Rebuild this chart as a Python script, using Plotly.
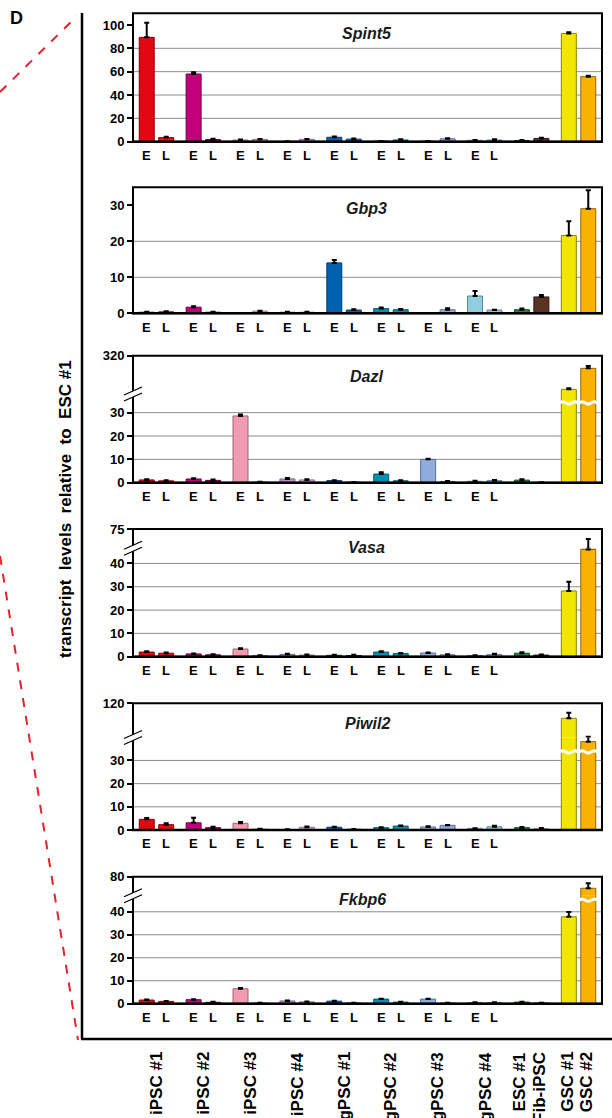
import plotly.graph_objects as go

W, H = 612, 1118
FONT = "Arial, Liberation Sans, sans-serif"

# ---------------- data ----------------
groups = ["iPSC #1", "iPSC #2", "iPSC #3", "iPSC #4",
          "gPSC #1", "gPSC #2", "gPSC #3", "gPSC #4"]
controls = ["ESC #1", "Fib-iPSC", "GSC #1", "GSC #2"]
stages = ["E", "L"]
genes = ["Spint5", "Gbp3", "Dazl", "Vasa", "Piwil2", "Fkbp6"]

# bar order: iPSC#1 E, iPSC#1 L, ... gPSC#4 E, gPSC#4 L, ESC #1, Fib-iPSC, GSC #1, GSC #2
spint5 = [89.4, 3.5, 58.0, 1.8, 1.4, 2.0, 0.2, 2.0, 3.8, 2.2,
          0.5, 1.5, 0.5, 2.5, 1.2, 1.5, 1.0, 2.8, 92.8, 55.7]
spint5_err = [12.6, 0.8, 1.5, 0.8, 0.4, 0.4, 0.1, 0.4, 0.6, 0.5,
              0.2, 0.6, 0.2, 0.5, 0.3, 0.6, 0.4, 0.6, 0.9, 0.8]

gbp3 = [0.3, 0.4, 1.7, 0.3, 0.05, 0.6, 0.3, 0.3, 14.0, 0.9,
        1.3, 1.0, 0.05, 1.0, 4.8, 0.9, 1.0, 4.55, 21.6, 29.05]
gbp3_err = [0.1, 0.15, 0.25, 0.1, 0.0, 0.1, 0.15, 0.1, 0.8, 0.2,
            0.3, 0.2, 0.0, 0.4, 1.4, 0.1, 0.3, 0.55, 4.0, 5.1]

dazl = [1.2, 0.8, 1.6, 1.0, 28.6, 0.3, 1.6, 1.2, 0.9, 0.2,
        3.7, 0.8, 10.0, 0.5, 0.6, 0.9, 1.1, 0.1, 72.6, 227.0]
dazl_err = [0.3, 0.2, 0.3, 0.4, 0.6, 0.1, 0.4, 0.3, 0.2, 0.1,
            0.8, 0.3, 0.3, 0.2, 0.2, 0.3, 0.4, 0.05, 7.4, 17.0]

vasa = [2.0, 1.5, 1.2, 0.8, 3.3, 0.5, 1.0, 0.7, 0.6, 0.5,
        2.0, 1.4, 1.6, 0.8, 0.5, 1.0, 1.5, 0.7, 28.2, 46.0]
vasa_err = [0.3, 0.3, 0.2, 0.2, 0.3, 0.1, 0.3, 0.2, 0.2, 0.3,
            0.3, 0.2, 0.2, 0.2, 0.1, 0.3, 0.4, 0.2, 3.9, 14.2]

piwil2 = [4.6, 2.3, 3.1, 1.0, 2.9, 0.4, 0.2, 1.2, 1.2, 0.3,
          1.0, 1.7, 1.3, 2.0, 0.7, 1.4, 1.0, 0.4, 84.8, 38.1]
piwil2_err = [0.6, 0.6, 2.2, 0.4, 0.5, 0.1, 0.1, 0.3, 0.2, 0.1,
              0.2, 0.2, 0.3, 0.2, 0.1, 0.4, 0.3, 0.5, 13.1, 3.7]

fkbp6 = [1.6, 1.0, 1.75, 0.6, 6.5, 0.3, 1.2, 0.8, 1.1, 0.3,
         2.0, 0.7, 2.0, 0.3, 0.5, 0.5, 0.7, 0.3, 37.8, 59.9]
fkbp6_err = [0.2, 0.2, 0.2, 0.2, 0.3, 0.1, 0.2, 0.2, 0.2, 0.1,
             0.2, 0.2, 0.2, 0.1, 0.1, 0.1, 0.2, 0.1, 2.1, 8.6]

fill_colors = [
    "#E30613", "#E2101C",
    "#C2007C", "#A3006F",
    "#F29AB0", "#EBA6B8",
    "#C48FC8", "#CBA3D0",
    "#0062AF", "#0062AF",
    "#0090B3", "#0090B3",
    "#8EADDC", "#8EADDC",
    "#8ECEDF", "#8EC6D3",
    "#1B8A3A", "#5A3322",
    "#F2E500", "#F9B200",
]
line_colors = [
    "#8B0008", "#8B0008",
    "#6E0046", "#5E0040",
    "#A0606E", "#A07080",
    "#80608A", "#8A7090",
    "#003C70", "#003C70",
    "#005A70", "#005A70",
    "#5A709A", "#5A709A",
    "#5A8C98", "#5A8C98",
    "#0E4D20", "#2E1A10",
    "#8C8400", "#8F6500",
]

# ---------------- layout helpers ----------------
def px(x):
    return x / W

def py(y):
    return 1 - y / H

X0, X1 = 133, 602
BARGAP, GROUPGAP = 0.17, 0.23
half = (1 - BARGAP) / 4
n_cat = len(groups) + len(controls) // 2
cats = list(range(n_cat))

panels = [
    dict(gene="Spint5", vals=spint5, errs=spint5_err, top=13.3, brk=None, bot=141.7,
         low=[0, 110], high=None, ticks=[0, 20, 40, 60, 80, 100], grid=[20, 40, 60, 80],
         title=(366.5, 33), wave=None, wave_bars=[]),
    dict(gene="Gbp3", vals=gbp3, errs=gbp3_err, top=187.3, brk=None, bot=313.3,
         low=[0, 35], high=None, ticks=[0, 10, 20, 30], grid=[10, 20],
         title=(366.5, 208), wave=None, wave_bars=[]),
    dict(gene="Dazl", vals=dazl, errs=dazl_err, top=355.7, brk=394, bot=482.7,
         low=[0, 38.0], high=320, ticks=[0, 10, 20, 30], grid=[10, 20, 30],
         title=(366, 376.7), wave=34.2, wave_bars=[18, 19]),
    dict(gene="Vasa", vals=vasa, errs=vasa_err, top=529, brk=548.3, bot=656.7,
         low=[0, 46.5], high=75, ticks=[0, 10, 20, 30, 40], grid=[10, 20, 30, 40],
         title=(366.5, 547.3), wave=None, wave_bars=[]),
    dict(gene="Piwil2", vals=piwil2, errs=piwil2_err, top=703.3, brk=737.5, bot=830,
         low=[0, 39.9], high=120, ticks=[0, 10, 20, 30], grid=[10, 20, 30],
         title=(367, 723.3), wave=33.7, wave_bars=[18, 19]),
    dict(gene="Fkbp6", vals=fkbp6, errs=fkbp6_err, top=876.7, brk=895.7, bot=1003.7,
         low=[0, 47.0], high=80, ticks=[0, 10, 20, 30, 40], grid=[10, 20, 30, 40],
         title=(362, 899), wave=45.1, wave_bars=[19]),
]

fig = go.Figure()
layout = {}
shapes = []
annotations = []

tickfont = dict(family=FONT, size=13, color="black", weight="bold")


def axnames(k):
    return ("x" if k == 1 else f"x{k}", "y" if k == 1 else f"y{k}")


def add_subplot(k, top, bot, yrange, tickvals, vals, errs):
    xa, ya = axnames(k)
    sfx = "" if k == 1 else str(k)
    layout["xaxis" + sfx] = dict(domain=[px(X0), px(X1)], range=[-0.5, n_cat - 0.5],
                                 visible=False, anchor=ya, fixedrange=True,
                                 automargin=False)
    layout["yaxis" + sfx] = dict(domain=[py(bot), py(top)], range=yrange,
                                 tickmode="array", tickvals=tickvals,
                                 ticks="outside", ticklen=5, tickwidth=1.5,
                                 tickcolor="black", showgrid=False, zeroline=False,
                                 showline=False, tickfont=tickfont, anchor=xa,
                                 fixedrange=True, automargin=False)
    for s, stage in enumerate(stages):
        fig.add_trace(go.Bar(
            x=cats, y=vals[s::2], name=stage, showlegend=False, hoverinfo="skip",
            marker=dict(color=fill_colors[s::2],
                        line=dict(color=line_colors[s::2], width=1)),
            error_y=dict(type="data", symmetric=False, array=errs[s::2],
                         arrayminus=[0] * n_cat, color="black", thickness=2, width=2.5),
            xaxis=xa, yaxis=ya))
    return xa, ya


k = 0
last_xa = None
for p in panels:
    k += 1
    lower_top = p["brk"] if p["brk"] is not None else p["top"]
    xa, ya = add_subplot(k, lower_top, p["bot"], p["low"], p["ticks"], p["vals"], p["errs"])
    last_xa = xa
    # gridlines
    for g in p["grid"]:
        shapes.append(dict(type="line", xref=f"{xa} domain", x0=0, x1=1,
                           yref=ya, y0=g, y1=g, layer="below",
                           line=dict(color="#8C8C8C", width=1)))
    # white wavy break on tall bars
    if p["wave"] is not None:
        wdx = [-0.19, -0.13, -0.065, 0.0, 0.065, 0.13, 0.19]
        wdy = [0.0, 0.5, 0.0, -0.5, 0.0, 0.5, 0.0]
        for b in p["wave_bars"]:
            cx = b // 2 + (-half if b % 2 == 0 else half)
            fig.add_trace(go.Scatter(
                x=[cx + d for d in wdx], y=[p["wave"] + d for d in wdy],
                mode="lines", line=dict(color="white", width=3, shape="spline"),
                showlegend=False, hoverinfo="skip", xaxis=xa, yaxis=ya))
    # E / L labels
    for gi in range(len(groups)):
        for s, stage in enumerate(stages):
            annotations.append(dict(
                text=f"<b>{stage}</b>", xref=xa, x=gi + (-half if s == 0 else half),
                yref="paper", y=py(p["bot"] + 14), showarrow=False,
                xanchor="center", yanchor="middle",
                font=dict(family=FONT, size=13, color="black")))
    if p["brk"] is not None:
        k += 1
        add_subplot(k, p["top"], p["brk"], [p["low"][1], p["high"]], [p["high"]],
                    p["vals"], p["errs"])
    # gene title
    tx, ty = p["title"]
    annotations.append(dict(text=f"<b><i>{p['gene']}</i></b>", xref="paper", yref="paper",
                            x=px(tx), y=py(ty), showarrow=False, xanchor="center",
                            yanchor="middle", font=dict(family=FONT, size=16, color="#1a1a1a")))
    # frame
    shapes.append(dict(type="rect", xref="paper", yref="paper",
                       x0=px(X0), x1=px(X1), y0=py(p["bot"]), y1=py(p["top"]),
                       line=dict(color="black", width=2), layer="above"))
    shapes.append(dict(type="line", xref="paper", yref="paper",
                       x0=px(X0 - 1), x1=px(X1 + 1), y0=py(p["bot"]), y1=py(p["bot"]),
                       line=dict(color="black", width=2.5), layer="above"))
    # axis break mark
    if p["brk"] is not None:
        b = p["brk"]
        xl, xr = 124, 142
        d = 3
        path = (f"M {px(xl)},{py(b + 4 - d)} L {px(xr)},{py(b - 4 - d)} "
                f"L {px(xr)},{py(b - 4 + d)} L {px(xl)},{py(b + 4 + d)} Z")
        shapes.append(dict(type="path", xref="paper", yref="paper", path=path,
                           fillcolor="white", line=dict(width=0), layer="above"))
        for dd in (-d, d):
            shapes.append(dict(type="line", xref="paper", yref="paper",
                               x0=px(xl), y0=py(b + 4 + dd), x1=px(xr), y1=py(b - 4 + dd),
                               line=dict(color="black", width=1.2), layer="above"))

# bottom sample labels
for gi, name in enumerate(groups):
    annotations.append(dict(text=f"<b>{name}</b>", xref=last_xa, x=gi, xshift=0,
                            yref="paper", y=py(1050), textangle=-90, showarrow=False,
                            xanchor="center", yanchor="top",
                            font=dict(family=FONT, size=17, color="black")))
for j, name in enumerate(controls):
    cx = len(groups) + j // 2 + (-half if j % 2 == 0 else half)
    annotations.append(dict(text=f"<b>{name}</b>", xref=last_xa, x=cx, xshift=-2,
                            yref="paper", y=py(1050), textangle=-90, showarrow=False,
                            xanchor="center", yanchor="top",
                            font=dict(family=FONT, size=17, color="black")))

# y axis title
annotations.append(dict(text="<b>transcript  levels  relative  to  ESC #1</b>",
                        xref="paper", yref="paper", x=px(65), y=py(509),
                        textangle=-90, showarrow=False, xanchor="center", yanchor="middle",
                        font=dict(family=FONT, size=17, color="black")))
# panel letter
annotations.append(dict(text="<b>D</b>", xref="paper", yref="paper", x=px(8), y=py(6),
                        showarrow=False, xanchor="left", yanchor="top",
                        font=dict(family=FONT, size=18, color="black")))

# bracket lines
shapes.append(dict(type="line", xref="paper", yref="paper", x0=px(82), x1=px(82),
                   y0=py(13), y1=py(1039), line=dict(color="black", width=2.5)))
shapes.append(dict(type="line", xref="paper", yref="paper", x0=px(81), x1=px(612),
                   y0=py(1039), y1=py(1039), line=dict(color="black", width=2.5)))
# red dashed zoom lines
shapes.append(dict(type="line", xref="paper", yref="paper", x0=0, y0=py(92),
                   x1=px(77), y1=py(16), line=dict(color="#E8202A", width=2, dash="dash")))
shapes.append(dict(type="line", xref="paper", yref="paper", x0=0, y0=py(556),
                   x1=px(78), y1=py(1040), line=dict(color="#E8202A", width=2, dash="dash")))

fig.update_layout(
    width=W, height=H, margin=dict(l=0, r=0, t=0, b=0, pad=0),
    paper_bgcolor="white", plot_bgcolor="rgba(0,0,0,0)",
    barmode="group", bargap=BARGAP, bargroupgap=GROUPGAP,
    showlegend=False, shapes=shapes, annotations=annotations,
    **layout,
)

fig.write_html("out.html", config={"displayModeBar": False},
               post_script="document.body.style.margin='0';")
